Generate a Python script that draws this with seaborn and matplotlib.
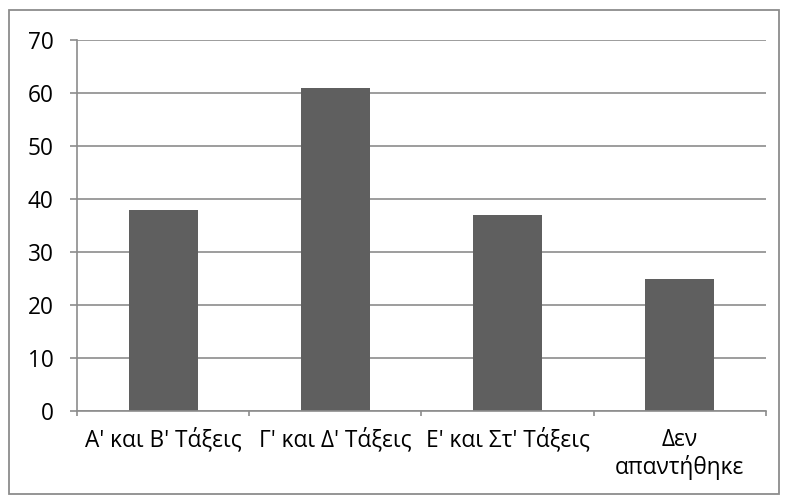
import matplotlib
matplotlib.use("Agg")
import matplotlib.pyplot as plt
from matplotlib.patches import Rectangle
import seaborn as sns
import pandas as pd

# chart data
categories = ["Α' και Β' Τάξεις", "Γ' και Δ' Τάξεις", "Ε' και Στ' Τάξεις", "Δεν\nαπαντήθηκε"]
values = [38, 61, 37, 25]
yticks = [0, 10, 20, 30, 40, 50, 60, 70]

df = pd.DataFrame({"cat": categories, "val": values})

sns.set_style("white")
plt.rcParams['font.family'] = ['Open Sans', 'DejaVu Sans']

fig = plt.figure(figsize=(7.87, 5.04), dpi=100)
ax = fig.add_axes([0.0978, 0.1845, 0.8755, 0.7361])

sns.barplot(data=df, x="cat", y="val", color="#5f5f5f", saturation=1, width=0.4,
            linewidth=0, ax=ax)

ax.set_ylim(0, 70)
ax.set_xlim(-0.5, 3.5)
ax.set_yticks(yticks)
ax.set_xlabel("")
ax.set_ylabel("")

# gridlines and spines
grid_col = "#8c8c8c"
ax.set_axisbelow(True)
ax.yaxis.grid(True, color=grid_col, linewidth=1.2)
for s in ["top", "right"]:
    ax.spines[s].set_visible(False)
for s in ["left", "bottom"]:
    ax.spines[s].set_color(grid_col)
    ax.spines[s].set_linewidth(1.2)

# category boundary ticks as minor ticks
ax.set_xticks([-0.5, 0.5, 1.5, 2.5, 3.5], minor=True)
ax.tick_params(axis="x", which="major", length=0, pad=12, labelsize=16.3, labelcolor="black")
ax.tick_params(axis="x", which="minor", length=3.8, width=1.2, color=grid_col, direction="out", bottom=True)
ax.tick_params(axis="y", length=5, width=1.2, color=grid_col, direction="out", left=True,
               labelsize=16.3, labelcolor="black", pad=12)
for lbl in ax.get_xticklabels():
    lbl.set_linespacing(1.2)

# outer border
fig.patches.append(Rectangle((0.0115, 0.0198), 0.9785, 0.960, transform=fig.transFigure,
                             fill=False, edgecolor="#8c8c8c", linewidth=1.3))

plt.savefig("out.png", dpi=100)
